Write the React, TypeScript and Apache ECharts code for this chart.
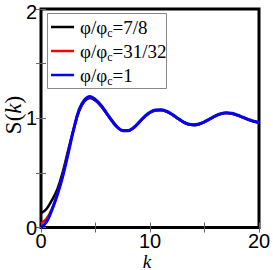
import React, { useEffect, useRef } from "react";
import * as echarts from "echarts";

const kValues = [0,0.5,1,1.5,2,2.5,3,3.5,4,4.5,5,5.5,6,6.5,7,7.5,8,8.5,9,9.5,10,10.5,11,11.5,12,12.5,13,13.5,14,14.5,15,15.5,16,16.5,17,17.5,18,18.5,19,19.5,20];
const sBlack = [0.13,0.17,0.25,0.35,0.51,0.71,0.9,1.065,1.155,1.185,1.16,1.11,1.045,0.975,0.917,0.884,0.884,0.911,0.961,1.011,1.051,1.071,1.074,1.061,1.034,1.0,0.967,0.944,0.937,0.945,0.965,0.992,1.019,1.039,1.047,1.042,1.027,1.007,0.987,0.97,0.96];
const sRed = [0.04,0.08,0.17,0.31,0.48,0.69,0.9,1.075,1.165,1.195,1.168,1.118,1.048,0.978,0.919,0.886,0.886,0.913,0.963,1.013,1.053,1.073,1.076,1.063,1.036,1.002,0.969,0.946,0.939,0.947,0.967,0.994,1.021,1.041,1.049,1.044,1.029,1.009,0.989,0.972,0.961];
const sBlue = [0,0.05,0.16,0.3,0.47,0.68,0.9,1.08,1.17,1.2,1.17,1.12,1.05,0.98,0.92,0.888,0.888,0.915,0.965,1.015,1.055,1.075,1.078,1.065,1.038,1.003,0.97,0.947,0.94,0.948,0.968,0.995,1.022,1.042,1.05,1.045,1.03,1.01,0.99,0.973,0.962];
const seriesNames = ["7/8", "31/32", "1"];
const seriesColors = ["#000000", "#ff0000", "#0000ff"];
const xAxisTitle = "k";
const yAxisTitle = [["S(", false], ["k", true], [")", false]] as [string, boolean][];

const SERIF = "Liberation Serif";
const SANS = "Liberation Sans";

export default function App() {
  const ref = useRef<HTMLDivElement>(null);
  useEffect(() => {
    const chart = echarts.init(ref.current!, null, { renderer: "svg" });
    const all = [sBlack, sRed, sBlue];
    const ctx = document.createElement("canvas").getContext("2d")!;
    const measure = (t: string, size: number, italic = false) => {
      ctx.font = (italic ? "italic " : "") + size + 'px "' + SERIF + '"';
      return ctx.measureText(t).width;
    };

    const legendEls: any[] = [
      { type: "rect", shape: { x: 47.5, y: 13.5, width: 119, height: 75 }, style: { fill: "#fff", stroke: "#888", lineWidth: 1 }, z: 10 },
    ];
    seriesNames.forEach((n, i) => {
      const y = 27 + 24 * i;
      const w1 = measure("φ/φ", 19);
      const wc = measure("c", 12);
      legendEls.push(
        { type: "line", shape: { x1: 51, y1: y, x2: 74, y2: y }, style: { stroke: seriesColors[i], lineWidth: 2.5 }, z: 11 },
        { type: "text", x: 80, y: y, z: 11, style: { text: "φ/φ", fontFamily: SERIF, fontSize: 19, fill: "#000", verticalAlign: "middle" } },
        { type: "text", x: 80 + w1, y: y + 6, z: 11, style: { text: "c", fontFamily: SERIF, fontSize: 12, fill: "#000", verticalAlign: "middle" } },
        { type: "text", x: 80 + w1 + wc, y: y, z: 11, style: { text: "=" + n, fontFamily: SERIF, fontSize: 19, fill: "#000", verticalAlign: "middle" } },
      );
    });

    const ySize = 23;
    const widths = yAxisTitle.map(([t, it]) => measure(t, ySize, it));
    const total = widths.reduce((a, b) => a + b, 0);
    let cx = -total / 2;
    const yTitleChildren = yAxisTitle.map(([t, it], i) => {
      const el = { type: "text", x: cx, y: 0, style: { text: t, fontFamily: SERIF, fontSize: ySize, fontStyle: it ? "italic" : "normal", fill: "#000", verticalAlign: "middle" } };
      cx += widths[i];
      return el;
    });

    const tickStyle = { show: true, inside: true, length: 5, lineStyle: { color: "#666", width: 1 } };
    const labelFont = { fontFamily: SANS, fontSize: 20, color: "#000" };
    chart.setOption({
      animation: false,
      grid: { left: 41, right: 14, top: 9, bottom: 42.5, show: true, borderColor: "#000", borderWidth: 3, backgroundColor: "transparent", outerBoundsMode: "none", containLabel: false },
      graphic: [
        ...legendEls,
        {
          type: "text", x: 147, y: 261,
          style: { text: xAxisTitle, fontFamily: SERIF, fontStyle: "italic", fontSize: 19, fill: "#000", align: "center", verticalAlign: "middle" },
        },
        { type: "group", x: 13, y: 115, rotation: Math.PI / 2, children: yTitleChildren },
      ],
      xAxis: [
        {
          type: "value", min: 0, max: 20, interval: 5,
          axisLine: { show: false }, axisTick: tickStyle, splitLine: { show: false },
          axisLabel: { ...labelFont, margin: 3, formatter: (v: number) => (v % 10 === 0 ? String(v) : "") },
        },
        {
          type: "value", min: 0, max: 20, interval: 5, position: "top",
          axisLine: { show: false }, axisTick: tickStyle, splitLine: { show: false }, axisLabel: { show: false },
        },
      ],
      yAxis: [
        {
          type: "value", min: 0, max: 2, interval: 0.5,
          axisLine: { show: false }, axisTick: tickStyle, splitLine: { show: false },
          axisLabel: {
            ...labelFont, margin: 4,
            formatter: (v: number) => (v === 2 ? "{top|2}" : v % 1 === 0 ? String(v) : ""),
            rich: { top: { fontFamily: SANS, fontSize: 20, color: "#000", padding: [6, 0, 0, 0] } },
          },
        },
        {
          type: "value", min: 0, max: 2, interval: 0.5, position: "right",
          axisLine: { show: false }, axisTick: tickStyle, splitLine: { show: false }, axisLabel: { show: false },
        },
      ],
      series: all.map((arr, i) => ({
        name: "φ/φc=" + seriesNames[i],
        type: "line",
        smooth: 0.4,
        symbol: "none",
        color: seriesColors[i],
        lineStyle: { color: seriesColors[i], width: i === 2 ? 3 : 2.5 },
        data: kValues.map((k, j) => [k, arr[j]]),
        z: 2 + i,
      })),
    });
    return () => chart.dispose();
  }, []);
  return <div ref={ref} style={{ width: 273, height: 270, position: "absolute", left: 0, top: 0 }} />;
}
